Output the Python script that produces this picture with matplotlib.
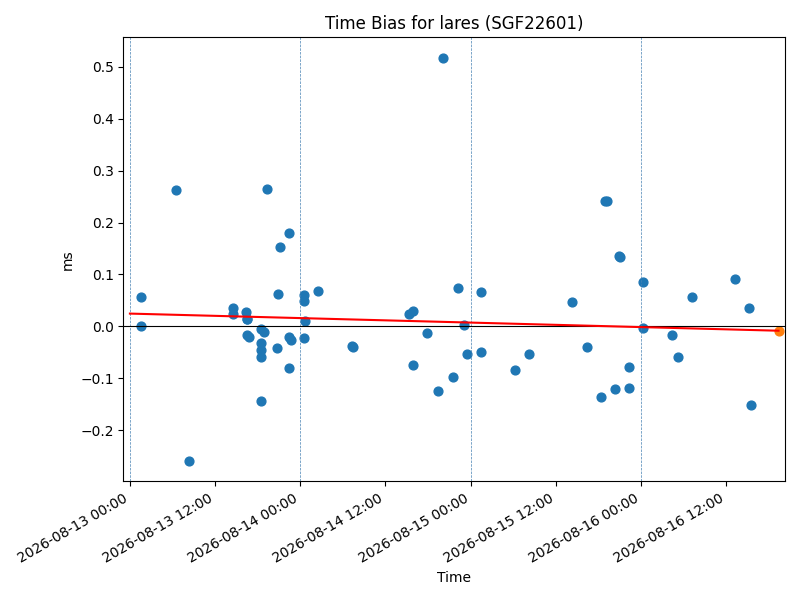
import pandas as pd
import matplotlib
matplotlib.use("Agg")
import matplotlib.pyplot as plt
import matplotlib.dates as mdates

# Données (heure UTC, biais en ms)
times = [
    "2026-08-13 01:36", "2026-08-13 01:36", "2026-08-13 06:32", "2026-08-13 08:23",
    "2026-08-13 14:35", "2026-08-13 14:35", "2026-08-13 16:22", "2026-08-13 16:28",
    "2026-08-13 16:31", "2026-08-13 16:31", "2026-08-13 16:45", "2026-08-13 18:32",
    "2026-08-13 18:58", "2026-08-13 18:27", "2026-08-13 18:32", "2026-08-13 18:32",
    "2026-08-13 18:32", "2026-08-13 19:18", "2026-08-13 20:43", "2026-08-13 20:48",
    "2026-08-13 21:13", "2026-08-13 22:29", "2026-08-13 22:29", "2026-08-13 22:38",
    "2026-08-13 22:29", "2026-08-14 00:32", "2026-08-14 00:32", "2026-08-14 00:40",
    "2026-08-14 00:32", "2026-08-14 02:27", "2026-08-14 07:15", "2026-08-14 07:29",
    "2026-08-14 15:23", "2026-08-14 15:52", "2026-08-14 15:52", "2026-08-14 17:50",
    "2026-08-14 19:29", "2026-08-14 20:05", "2026-08-14 21:30", "2026-08-14 22:12",
    "2026-08-14 23:02", "2026-08-14 23:28", "2026-08-15 01:28", "2026-08-15 01:28",
    "2026-08-15 06:16", "2026-08-15 08:14", "2026-08-15 14:18", "2026-08-15 16:25",
    "2026-08-15 18:24", "2026-08-15 18:58", "2026-08-15 19:12", "2026-08-15 20:23",
    "2026-08-15 20:56", "2026-08-15 21:04", "2026-08-15 22:21", "2026-08-15 22:21",
    "2026-08-16 00:20", "2026-08-16 00:20", "2026-08-16 04:25", "2026-08-16 05:15",
    "2026-08-16 07:15", "2026-08-16 13:19", "2026-08-16 15:17", "2026-08-16 15:32",
]
bias = [
    0.056, 0.000, 0.263, -0.260,
    0.036, 0.024, 0.027, 0.015,
    0.015, -0.016, -0.020, -0.005,
    -0.011, -0.033, -0.045, -0.060,
    -0.144, 0.265, -0.042, 0.063,
    0.153, 0.180, -0.020, -0.026,
    -0.081, 0.061, 0.049, 0.010,
    -0.023, 0.069, -0.038, -0.039,
    0.024, 0.030, -0.075, -0.012,
    -0.124, 0.518, -0.097, 0.074,
    0.002, -0.054, 0.067, -0.050,
    -0.085, -0.054, 0.046, -0.040,
    -0.137, 0.242, 0.241, -0.120,
    0.135, 0.134, -0.118, -0.079,
    0.085, -0.004, -0.017, -0.060,
    0.057, 0.092, 0.035, -0.152,
]

# Dernier point (mis en évidence)
last_time = ["2026-08-16 19:24"]
last_bias = [-0.010]

# Tendance linéaire (extrémités lues)
trend_times = ["2026-08-13 00:00", "2026-08-16 19:24"]
trend_bias = [0.0245, -0.0085]

df = pd.DataFrame({"time": pd.to_datetime(times), "bias": bias})
last = pd.DataFrame({"time": pd.to_datetime(last_time), "bias": last_bias})
trend = pd.DataFrame({"time": pd.to_datetime(trend_times), "bias": trend_bias})

fig, ax = plt.subplots(figsize=(8, 6), dpi=100)

# Lignes verticales à chaque minuit
days = pd.date_range(df["time"].min().normalize(), last["time"].max(), freq="D")
for d in days:
    ax.axvline(d, color="steelblue", linestyle="--", linewidth=0.5)

ax.axhline(0, color="black", linewidth=0.8)
ax.scatter(df["time"], df["bias"], color="C0", s=40)
ax.scatter(last["time"], last["bias"], color="C1", s=40)
ax.plot(trend["time"], trend["bias"], color="red", linewidth=1.5)

ax.margins(x=0.01)
ax.xaxis.set_major_locator(mdates.HourLocator(byhour=[0, 12]))
ax.xaxis.set_major_formatter(mdates.DateFormatter("%Y-%m-%d %H:%M"))

ax.set_title("Time Bias for lares (SGF22601)")
ax.set_xlabel("Time")
ax.set_ylabel("ms")
fig.autofmt_xdate()
fig.tight_layout()
fig.savefig("out.png")
